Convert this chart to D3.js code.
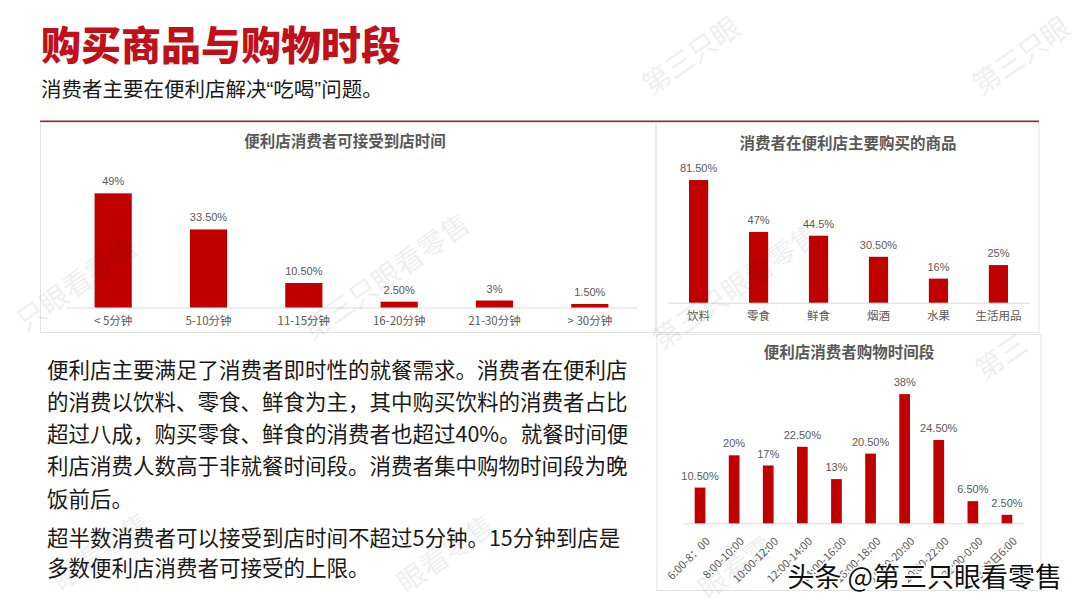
<!DOCTYPE html>
<html><head><meta charset="utf-8">
<script src="https://cdn.jsdelivr.net/npm/d3@7/dist/d3.min.js"></script>
<style>
html,body{margin:0;padding:0;background:#fff;}
svg{display:block;font-family:"Noto Sans CJK SC","Noto Sans",sans-serif;}
</style></head>
<body>
<svg id="c" width="1080" height="608"></svg>
<script>
// ---- data ----
const pageTitle = "购买商品与购物时段";
const pageSubtitleParts = ["消费者主要在便利店解决", "“", "吃喝", "”", "问题。"];

const waitTitle = "便利店消费者可接受到店时间";
const waitCats = ["< 5分钟","5-10分钟","11-15分钟","16-20分钟","21-30分钟","> 30分钟"];
const waitVals = [49, 33.5, 10.5, 2.5, 3, 1.5];
const waitLabels = ["49%","33.50%","10.50%","2.50%","3%","1.50%"];

const goodsTitle = "消费者在便利店主要购买的商品";
const goodsCats = ["饮料","零食","鲜食","烟酒","水果","生活用品"];
const goodsVals = [81.5, 47, 44.5, 30.5, 16, 25];
const goodsLabels = ["81.50%","47%","44.5%","30.50%","16%","25%"];

const timeTitle = "便利店消费者购物时间段";
const timeCats = ["6:00-8：00","8:00-10:00","10:00-12:00","12:00-14:00","14:00-16:00","16:00-18:00","18:00-20:00","20:00-22:00","22:00-0:00","0:00-次日6:00"];
const timeVals = [10.5, 20, 17, 22.5, 13, 20.5, 38, 24.5, 6.5, 2.5];
const timeLabels = ["10.50%","20%","17%","22.50%","13%","20.50%","38%","24.50%","6.50%","2.50%"];

const paraLines = [
  "便利店主要满足了消费者即时性的就餐需求。消费者在便利店",
  "的消费以饮料、零食、鲜食为主，其中购买饮料的消费者占比",
  "超过八成，购买零食、鲜食的消费者也超过40%。就餐时间便",
  "利店消费人数高于非就餐时间段。消费者集中购物时间段为晚",
  "饭前后。"
];
const para2Lines = [
  "超半数消费者可以接受到店时间不超过5分钟。15分钟到店是",
  "多数便利店消费者可接受的上限。"
];
// faint watermark fragments [text, x, y]
const watermarks = [
  ["第三只眼", 690, 54], ["第三只眼", 1020, 54],
  ["只眼看零售", 76, 282], ["第三只眼看零售", 385, 275], ["第三只眼看零售", 735, 285],
  ["第三", 1000, 355], ["眼看零售", 100, 550], ["眼看零售", 445, 552], ["眼看零", 735, 566]
];
const credit = "头条 @第三只眼看零售";

// ---- drawing ----
const RED = "#c00000";
const GRAY = "#595959";
const svg = d3.select("#c");

// header
svg.append("text").attr("x", 41).attr("y", 43).attr("dominant-baseline","central")
  .attr("font-size", 40).attr("font-weight", 900).attr("fill", "#c0101a").text(pageTitle);
const sub = svg.append("text").attr("x", 41).attr("y", 88).attr("dominant-baseline","central")
  .attr("font-size", 20.5).attr("fill", "#1a1a1a");
sub.selectAll("tspan").data(pageSubtitleParts).join("tspan")
  .attr("font-family", (d,i)=> (i===1||i===3) ? '"Liberation Sans",Arial,sans-serif' : null)
  .text(d=>d);
svg.append("line").attr("x1", 40).attr("x2", 1039).attr("y1", 121.5).attr("y2", 121.5)
  .attr("stroke", "#b01c26").attr("stroke-width", 2);

// panels
const panels = [
  {x:40.5, y:122.5, w:615.5, h:210},
  {x:656, y:122.5, w:383, h:210},
  {x:657, y:334.5, w:384, h:256}
];
svg.selectAll("rect.panel").data(panels).join("rect").attr("class","panel")
  .attr("x", d=>d.x).attr("y", d=>d.y).attr("width", d=>d.w).attr("height", d=>d.h)
  .attr("fill","none").attr("stroke","#e3e3e3").attr("stroke-width",1);

function barChart(opt){
  const g = svg.append("g");
  const x = d3.scaleBand().domain(opt.cats).range(opt.xr)
    .paddingInner(opt.pi).paddingOuter(opt.po);
  const y = d3.scaleLinear().domain(opt.yd).range(opt.yr);
  g.append("text").attr("x", opt.tx).attr("y", opt.ty).attr("dominant-baseline","central")
    .attr("text-anchor","middle").attr("font-size", 15.5).attr("font-weight", 700)
    .attr("fill", GRAY).text(opt.title);
  const ax = g.append("g").attr("transform", `translate(0,${opt.yr[0]})`)
    .call(d3.axisBottom(x).tickSize(0).tickPadding(opt.tp));
  ax.select(".domain").attr("stroke", "#d9d9d9").attr("stroke-width", 1);
  ax.selectAll(".tick text").attr("fill", GRAY).attr("font-size", opt.fs)
    .attr("font-family", '"Noto Sans CJK SC","Liberation Sans",sans-serif');
  if (opt.rotate){
    ax.selectAll(".tick text").attr("x",0).attr("y",0).attr("dy","0.35em")
      .attr("transform","translate(8,16) rotate(-45)").style("text-anchor","end");
  }
  g.selectAll("rect.bar").data(opt.vals).join("rect").attr("class","bar")
    .attr("x", (d,i)=>x(opt.cats[i])).attr("width", x.bandwidth())
    .attr("y", d=>y(d)).attr("height", d=>y(0)-y(d)).attr("fill", RED);
  g.selectAll("text.val").data(opt.vals).join("text").attr("class","val")
    .attr("x", (d,i)=>x(opt.cats[i]) + x.bandwidth()/2)
    .attr("y", d=>y(d) - 12).attr("dominant-baseline","central")
    .attr("text-anchor","middle").attr("font-size", opt.vfs).attr("fill", GRAY)
    .attr("font-family", '"Liberation Sans",Arial,sans-serif')
    .text((d,i)=>opt.labels[i]);
}

barChart({cats:waitCats, vals:waitVals, labels:waitLabels, title:waitTitle,
  xr:[66,637], pi:0.61, po:0.3, yd:[0,50], yr:[307.5,191], tx:345, ty:140,
  tp:9, fs:11.5, vfs:11});
barChart({cats:goodsCats, vals:goodsVals, labels:goodsLabels, title:goodsTitle,
  xr:[668,1029], pi:0.68, po:0.35, yd:[0,100], yr:[302.7,152.2], tx:848, ty:142,
  tp:9, fs:11.5, vfs:11});
barChart({cats:timeCats, vals:timeVals, labels:timeLabels, title:timeTitle,
  xr:[684,1023], pi:0.686, po:0.313, yd:[0,40], yr:[523.3,387.3], tx:849, ty:350.5,
  tp:8, fs:11, vfs:11, rotate:true});

// paragraphs
svg.append("g").selectAll("text").data(paraLines).join("text")
  .attr("x", 47).attr("y", (d,i)=>368 + i*32.3).attr("dominant-baseline","central")
  .attr("font-size", 21.5).attr("fill", "#1a1a1a").text(d=>d);
svg.append("g").selectAll("text").data(para2Lines).join("text")
  .attr("x", 47).attr("y", (d,i)=>536 + i*30).attr("dominant-baseline","central")
  .attr("font-size", 21.5).attr("fill", "#1a1a1a").text(d=>d);

// faint watermark fragments
svg.append("g").selectAll("text").data(watermarks).join("text")
  .attr("transform", d=>`translate(${d[1]},${d[2]}) rotate(-35)`)
  .attr("text-anchor","middle").attr("dominant-baseline","central")
  .attr("font-size", 28).attr("fill", "#000").attr("opacity", 0.06).text(d=>d[0]);

// credit
svg.append("text").attr("x", 1062).attr("y", 575).attr("text-anchor","end")
  .attr("dominant-baseline","central").attr("font-size", 27).attr("fill", "#111")
  .attr("stroke","#fff").attr("stroke-width",3).attr("paint-order","stroke")
  .text(credit);
</script>
</body></html>
